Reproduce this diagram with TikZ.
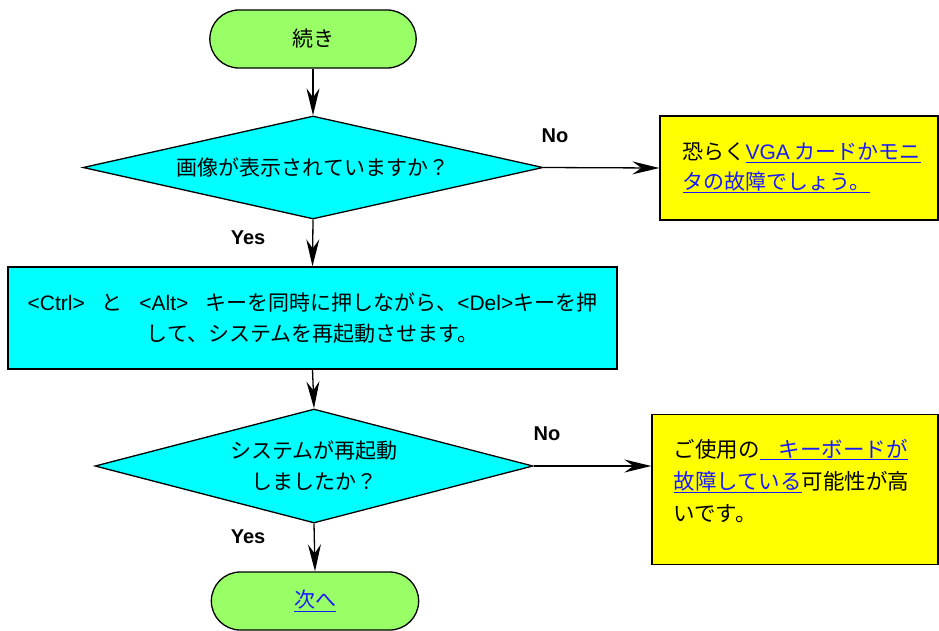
\documentclass[tikz,border=0pt]{standalone}
\usepackage{fontspec}
\setmainfont{Noto Sans CJK JP}
\newfontfamily\latinfont{Liberation Sans}
\usetikzlibrary{arrows.meta,shapes.geometric,shapes.misc}
\definecolor{TermGreen}{HTML}{99FF66}
\definecolor{DecCyan}{HTML}{00FFFF}
\definecolor{NoteYellow}{HTML}{FFFF00}
\definecolor{LinkBlue}{HTML}{1A1AFF}
\newcommand{\linktext}[1]{{\color{LinkBlue}\underline{#1}}}

\begin{document}
\begin{tikzpicture}[x=1pt,y=-1pt,>={Stealth[length=27pt,width=13pt,inset=9pt]},
    every node/.style={font=\fontsize{21}{31}\selectfont},
    terminal/.style={rounded rectangle,draw,line width=1.3pt,fill=TermGreen,
      minimum width=213pt,minimum height=58pt},
    decision/.style={diamond,draw,line width=1.3pt,fill=DecCyan,inner sep=0pt,align=center},
    process/.style={rectangle,draw,line width=1.3pt,fill=DecCyan,align=center,
      minimum width=609pt,minimum height=102pt},
    note/.style={rectangle,draw,line width=1.3pt,fill=NoteYellow},
    notetext/.style={inner sep=0pt,align=left},
    answer/.style={font=\latinfont\bfseries\fontsize{20}{22}\selectfont},
    flow/.style={->,line width=1.3pt}]
  \useasboundingbox (0,0) rectangle (939,630);

  % main column
  \node[terminal] (start) at (313,39) {続き};
  \node[decision,aspect=4.47,minimum width=460pt,minimum height=103pt] (dispQ) at (313,167.5)
    {画像が表示されていますか？};
  \node[process] (reboot) at (312.5,318)
    {{\latinfont <Ctrl>}\hspace{0.8em}と\hspace{0.8em}{\latinfont <Alt>}\hspace{0.8em}キーを同時に押しながら、{\latinfont <Del>}キーを押\\
     して、システムを再起動させます。};
  \node[decision,aspect=3.88,minimum width=438pt,minimum height=114pt] (bootQ) at (314,466)
    {システムが再起動\\しましたか？};
  \node[terminal,minimum width=214pt] (next) at (315,601) {\linktext{次へ}};

  % side notes
  \node[note,minimum width=278pt,minimum height=104pt] (vgaNote) at (799,168) {};
  \node[notetext,anchor=west,font=\fontsize{21}{30}\selectfont] (vgaText) at ([xshift=23pt]vgaNote.west)
    {恐らく\linktext{{\latinfont VGA} カードかモニ}\\\linktext{タの故障でしょう。}};
  \node[note,minimum width=286pt,minimum height=150pt] (kbdNote) at (795,489.5) {};
  \node[notetext,anchor=north west,font=\fontsize{21.5}{32}\selectfont] (kbdText) at ([xshift=22pt,yshift=-25pt]kbdNote.north west)
    {ご使用の\linktext{\hspace{0.9em}キーボードが}\\\linktext{故障している}可能性が高\\いです。};

  % answers
  \node[answer] (no1) at (555,136) {No};
  \node[answer] (yes1) at (248,238) {Yes};
  \node[answer] (no2) at (547,434) {No};
  \node[answer] (yes2) at (248,537) {Yes};

  % connectors
  \draw[flow] (start.south) -- (dispQ.north);
  \draw[flow] (dispQ.south) -- (reboot.north);
  \draw[flow] (dispQ.east) -- (vgaNote.west);
  \draw[flow] (reboot.south) -- (bootQ.north);
  \draw[flow] (bootQ.east) -- (bootQ.east -| kbdNote.west);
  \draw[flow] (bootQ.south) -- (next.north);
\end{tikzpicture}
\end{document}
